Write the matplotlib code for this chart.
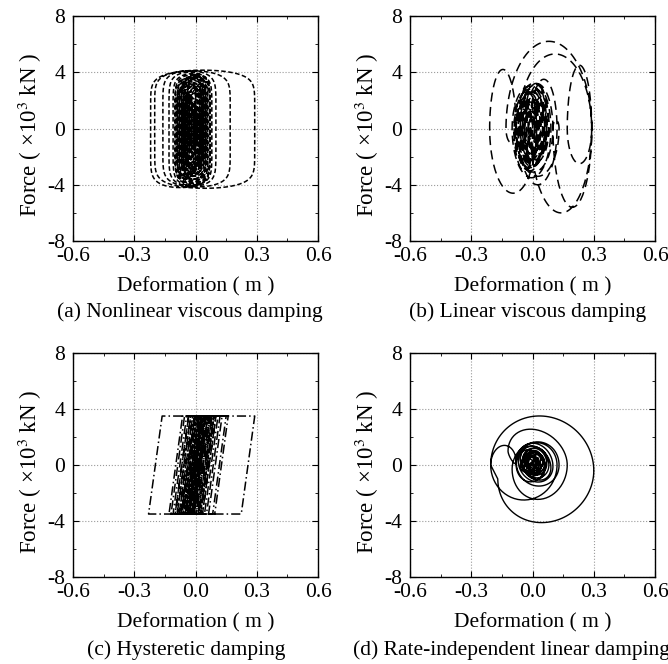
import numpy as np
import matplotlib
matplotlib.use('Agg')
import matplotlib.pyplot as plt
from matplotlib.ticker import MultipleLocator

plt.rcParams['font.family'] = ['Liberation Serif', 'DejaVu Serif']
plt.rcParams['mathtext.fontset'] = 'stix'
plt.rcParams['axes.unicode_minus'] = False

FONT_SIZE = 15.5
N_SEG = 60

# (a) nonlinear viscous damper: turning displacements (m), peak force of each half cycle (x10^3 kN)
turns_a = [0.0, 0.05, -0.06, 0.07, -0.22, 0.29, -0.20, 0.17, -0.16, 0.10, -0.13, 0.07,
           -0.11, 0.08, -0.10, 0.06, -0.09, 0.07, -0.10, 0.05, -0.08, 0.06, -0.09, 0.04,
           -0.07, 0.05, -0.08, 0.03, -0.06, 0.05, -0.07, 0.04, -0.05, 0.03, -0.06, 0.02,
           -0.04, 0.03, -0.05, 0.01, -0.03, 0.02, -0.04, 0.0, -0.02,
           0.03, -0.07, -0.01, -0.09, 0.02, -0.05, 0.04, -0.03, 0.0, -0.06, -0.02, -0.08,
           0.01, -0.04, 0.03, -0.01, 0.02, -0.05, -0.03, -0.07, 0.0, -0.04, 0.05, -0.02,
           0.01, -0.06, -0.01, -0.03, 0.02, -0.05, 0.0, -0.02, 0.01, -0.03]
force_a = [3.2, 3.6, 3.8, 4.2, 4.15, 4.25, 4.1, 4.15, 4.1, 4.1, 4.0, 4.05,
           3.9, 4.0, 3.8, 3.9, 3.7, 3.9, 3.6, 3.8, 3.6, 3.7, 3.5, 3.6,
           3.4, 3.6, 3.3, 3.4, 3.2, 3.4, 3.1, 3.2, 3.0, 3.1, 2.9, 3.0,
           2.8, 2.9, 2.6, 2.7, 2.5, 2.4, 2.2, 2.0,
           2.8, 3.4, 2.2, 3.6, 3.0, 3.3, 3.8, 2.5, 2.0, 3.1, 2.4, 3.5,
           3.2, 2.9, 3.6, 1.8, 1.5, 2.7, 1.9, 3.0, 3.4, 2.6, 3.7, 2.3,
           1.6, 3.2, 2.0, 1.7, 2.9, 2.8, 1.9, 1.4, 1.2, 1.0]

# (b) linear viscous damper
turns_b = [0.0, 0.05, -0.06, 0.02, -0.21, -0.08, -0.13, 0.29, -0.01, 0.12, -0.07, 0.29,
           0.17, 0.29, 0.10, 0.13, -0.08, 0.09, -0.10, 0.07, -0.06, 0.10, -0.09, 0.06,
           -0.07, 0.08, -0.05, 0.05, -0.08, 0.07, -0.04, 0.06, -0.06, 0.04, -0.05, 0.05,
           -0.03, 0.04, -0.04, 0.03, -0.02, 0.02,
           -0.06, 0.01, -0.09, 0.03, -0.04, 0.07, -0.01, 0.05, -0.07, 0.0, -0.03, 0.08,
           0.01, 0.06, -0.05, 0.02, -0.08, -0.02, -0.06, 0.04, -0.02, 0.03, -0.04, 0.01,
           -0.01]
force_b = [1.5, 2.2, 2.5, 4.6, 4.2, 1.0, 6.2, 6.0, 3.5, 4.0, 5.3, 2.5,
           4.5, 5.6, 0.6, 3.4, 3.2, 3.5, 3.0, 2.6, 3.2, 3.1, 2.8, 2.7,
           2.9, 2.4, 2.2, 2.8, 2.6, 2.2, 2.0, 2.4, 2.0, 1.8, 1.9, 1.6,
           1.5, 1.4, 1.2, 1.0, 0.8,
           2.4, 2.0, 3.0, 2.6, 2.2, 3.2, 1.8, 2.8, 3.0, 1.6, 2.4, 3.1,
           1.5, 2.2, 2.7, 1.9, 2.9, 1.4, 2.0, 2.5, 1.7, 1.6, 1.8, 1.2,
           0.8]

# (c) hysteretic damper: turning displacements (m), elastic stiffness, yield force
turns_c = [0.0, 0.29, -0.23, 0.16, -0.13, 0.15, -0.12, 0.10, -0.09, 0.13, -0.10, 0.08,
           -0.07, 0.09, -0.11, 0.06, -0.05, 0.11, -0.08, 0.07, -0.06, 0.05, -0.04, 0.08,
           -0.07, 0.04, -0.03, 0.06, -0.05, 0.03, -0.02, 0.05, -0.04, 0.02,
           0.12, -0.06, 0.09, -0.10, 0.04, -0.08, 0.10, -0.03, 0.07, -0.09, 0.05, -0.05,
           0.08, -0.07, 0.03, -0.06, 0.06, -0.02, 0.09, -0.04, 0.05, -0.07, 0.02, -0.05,
           0.07, -0.01, 0.04, -0.03, 0.01]
stiff_c = 106.0
yield_c = 3.5

# (d) rate-independent linear damper: turning displacements, force at each
# turning point and peak force of each half cycle
turns_d = [0.0, 0.06, -0.08, 0.12, -0.205, 0.30, -0.17, -0.205, -0.08, -0.12, 0.17, -0.10,
           0.13, -0.08, 0.10, -0.07, 0.08, -0.06, 0.09, -0.05, 0.07, -0.06, 0.06, -0.05,
           0.07, -0.04, 0.05, -0.05, 0.04, -0.03, 0.05, -0.04, 0.03, -0.02, 0.02,
           -0.05, 0.04, -0.03, 0.06, -0.01, 0.03, -0.06, 0.01, -0.04, 0.05, -0.02, 0.02,
           -0.03, 0.04, 0.0, 0.02, -0.01]
ends_d = [0.0, 0.0, 0.0, 0.0, 0.0, -0.4, -1.0, 0.0, 0.2, 1.0, 0.0, -0.3,
          0.0, 0.2, -0.1, 0.3, 0.0, 0.4, -0.2, 0.3, 0.1, 0.5, -0.3, 0.2,
          0.4, -0.2, 0.3, 0.0, 0.5, -0.1, 0.2, 0.3, -0.2, 0.1, 0.4,
          0.0, -0.3, 0.3, 0.1, -0.2, 0.4, 0.0, -0.1, 0.3, 0.2, -0.2, 0.1,
          0.3, -0.1, 0.2, 0.0, 0.1]
force_d = [0.8, 1.2, 1.6, 2.5, 3.7, 3.4, 0.0, 1.3, 0.3, 2.0, 2.3, 1.8,
           1.6, 1.5, 1.3, 1.2, 1.1, 1.2, 1.1, 1.0, 1.0, 0.9, 0.95, 0.9,
           0.85, 0.8, 0.8, 0.75, 0.7, 0.7, 0.65, 0.6, 0.5, 0.4,
           0.65, 0.7, 0.5, 0.7, 0.55, 0.3, 0.7, 0.55, 0.4, 0.7, 0.55, 0.3,
           0.4, 0.5, 0.3, 0.15, 0.15]

captions = ['(a) Nonlinear viscous damping', '(b) Linear viscous damping',
            '(c) Hysteretic damping', '(d) Rate-independent linear damping']


def half_cycles(turns, forces, expo, ends=None):
    """Joins half cycles between turning points, force ~ sign(v)|sin|^expo."""
    if ends is None:
        ends = [0.0] * len(turns)
    t = np.linspace(0.0, np.pi, N_SEG)
    s = 0.5 * (1.0 - np.cos(t))
    xs, fs = [], []
    for i, fp in enumerate(forces):
        x0, x1 = turns[i], turns[i + 1]
        sgn = 1.0 if x1 > x0 else -1.0
        xs.append(x0 + (x1 - x0) * s)
        fs.append(ends[i] + (ends[i + 1] - ends[i]) * s + sgn * fp * np.sin(t) ** expo)
    return np.concatenate(xs), np.concatenate(fs)


def elastoplastic(turns, k, fy):
    """Elastic-perfectly plastic force path through the turning points."""
    xs = [turns[0]]
    fs = [0.0]
    for x0, x1 in zip(turns[:-1], turns[1:]):
        for x in np.linspace(x0, x1, 300)[1:]:
            f = fs[-1] + k * (x - xs[-1])
            fs.append(min(max(f, -fy), fy))
            xs.append(x)
    return np.array(xs), np.array(fs)


curves = [half_cycles(turns_a, force_a, 0.22),
          half_cycles(turns_b, force_b, 1.0),
          elastoplastic(turns_c, stiff_c, yield_c),
          half_cycles(turns_d, force_d, 1.0, ends_d)]
styles = [(0, (3.0, 1.6)), (0, (6.0, 3.5)), (0, (6.0, 2.0, 1.0, 2.0)), '-']
widths = [1.1, 1.1, 1.1, 1.0]

positions = [[0.1093, 0.637, 0.3668, 0.3389], [0.6138, 0.637, 0.3668, 0.3389],
             [0.1093, 0.131, 0.3668, 0.3373], [0.6138, 0.131, 0.3668, 0.3373]]
caption_xy = [(190, 312), (528, 312), (186, 650), (511, 650)]

fig = plt.figure(figsize=(6.68, 6.64), dpi=100)

for k in range(4):
    ax = fig.add_axes(positions[k])
    x, f = curves[k]
    ax.plot(x, f, color='black', linewidth=widths[k], linestyle=styles[k])

    ax.set_xlim(-0.6, 0.6)
    ax.set_ylim(-8, 8)
    ax.xaxis.set_minor_locator(MultipleLocator(0.15))
    ax.yaxis.set_minor_locator(MultipleLocator(2))
    ax.set_xticks([-0.6, -0.3, 0.0, 0.3, 0.6])
    ax.set_xticklabels(['-0.6', '-0.3', '0.0', '0.3', '0.6'])
    ax.set_yticks([-8, -4, 0, 4, 8])
    ax.set_yticklabels(['-8', '-4', '0', '4', '8'])
    ax.tick_params(which='both', direction='in', top=True, right=True,
                   labelsize=FONT_SIZE)
    ax.tick_params(axis='x', which='major', length=4, pad=4.5)
    ax.tick_params(axis='y', which='major', length=4, pad=5.5)
    ax.tick_params(which='minor', length=2.5)
    ax.grid(True, which='major', color='#9a9a9a', linestyle=':', linewidth=0.8)
    for sp in ax.spines.values():
        sp.set_linewidth(1.0)

    ax.set_xlabel('Deformation ( m )', fontsize=FONT_SIZE, labelpad=8)
    ax.set_ylabel('Force ( ×10$^3$ kN )', fontsize=16.5)
    ax.yaxis.set_label_coords(-0.12, 0.47)

    cx, cy = caption_xy[k]
    fig.text(cx / 668.0, 1.0 - cy / 664.0, captions[k], fontsize=FONT_SIZE,
             ha='center', va='center')

fig.savefig('out.png', dpi=100)
